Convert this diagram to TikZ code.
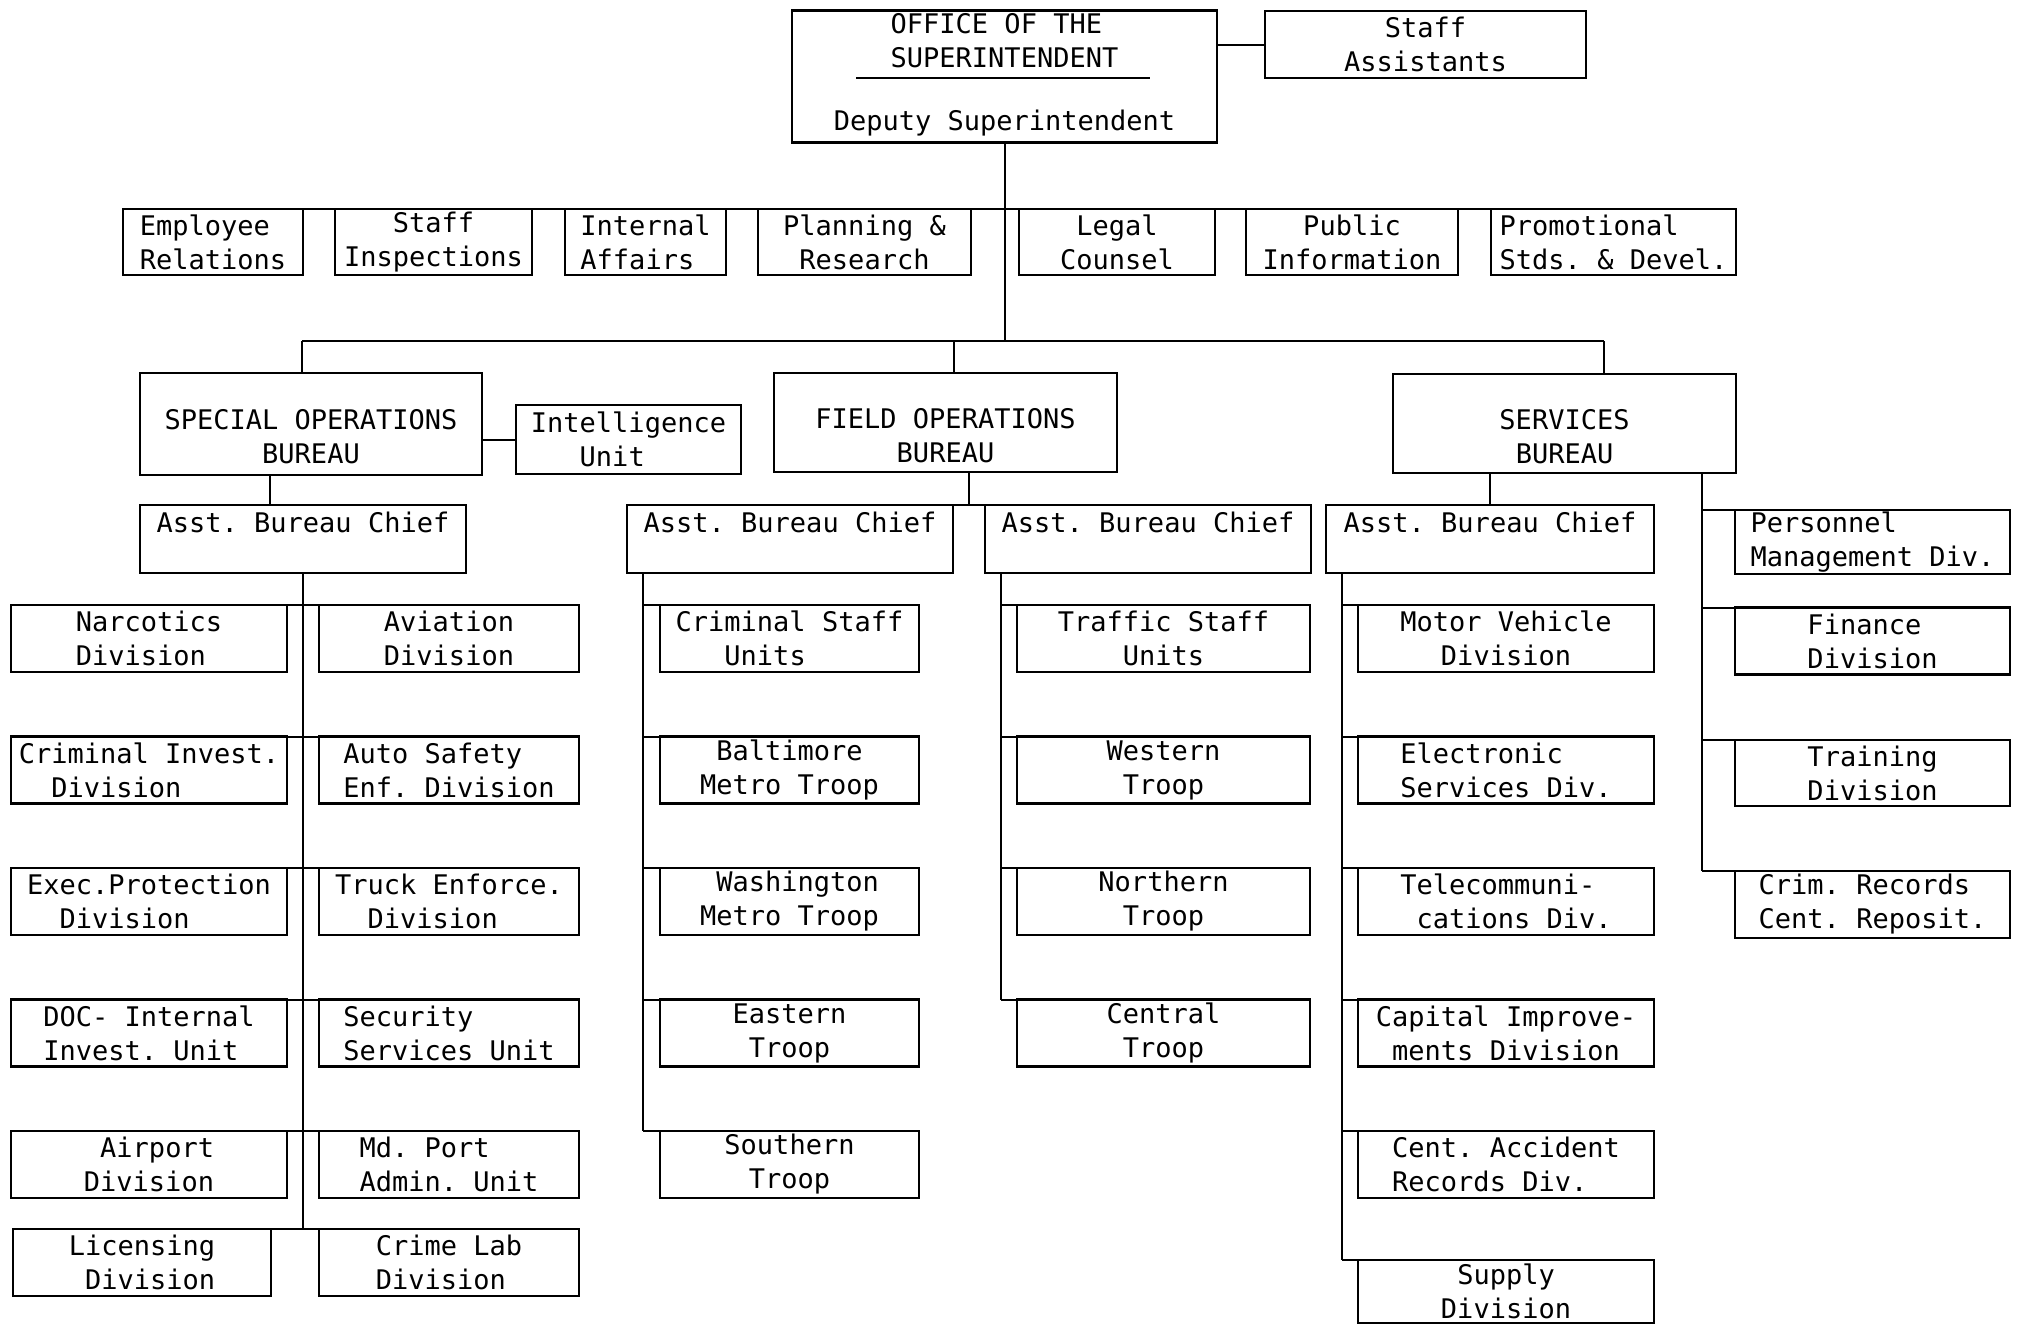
\documentclass[tikz,border=0pt]{standalone}
\usepackage{fontspec}
\setmonofont{DejaVu Sans Mono}
\usetikzlibrary{positioning}

\newcommand{\chartfont}{\ttfamily\fontsize{27pt}{34pt}\selectfont}
\newcommand{\chsp}{\hphantom{0}}
\newcommand{\lift}{\rule{0pt}{46pt}}

\tikzset{
  box/.style={draw, line width=2.4pt, inner sep=0pt, outer sep=0pt, font=\chartfont, align=left},
  unit/.style={box, minimum height=67pt},
  chief/.style={box, minimum width=326pt, minimum height=68pt},
  bureau/.style={box, align=center, minimum width=343pt, minimum height=100pt},
  txt/.style={inner sep=0pt, font=\chartfont},
  conn/.style={line width=2pt}
}

\begin{document}
\begin{tikzpicture}[x=1pt,y=-1pt,node distance=64.5pt]

\path[use as bounding box, fill=white] (0,0) rectangle (2022,1326);

% top office
\node(office)[box, minimum width=425pt, minimum height=132pt] at (1004.5,76.5) {};
\node(offtitle)[txt, align=left] at (1004.5,41) {OFFICE OF THE\\SUPERINTENDENT};
\node(deputy)[txt] at (1004.5,123) {Deputy Superintendent};
\draw[conn] ([shift={(64,67)}]office.north west) -- ++(294,0);

\node(staffa)[box, align=center, minimum width=321pt, minimum height=67pt] at (1425.5,44.5) {Staff\\Assistants};

% staff offices
\node(emprel)[box, minimum width=180pt, minimum height=66pt] at (213,242) {Employee\\Relations};
\node(staffinsp)[box, align=center, minimum width=197pt, minimum height=66pt] at (433.5,242) {Staff\\Inspections};
\node(intaff)[box, minimum width=161pt, minimum height=66pt] at (645.5,242) {Internal\\Affairs};
\node(planning)[box, align=center, minimum width=213pt, minimum height=66pt] at (864.5,242) {Planning \&\\Research};
\node(legal)[box, align=center, minimum width=196pt, minimum height=66pt] at (1117,242) {Legal\\Counsel};
\node(publicinfo)[box, align=center, minimum width=212pt, minimum height=66pt] at (1352,242) {Public\\Information};
\node(promo)[box, minimum width=245pt, minimum height=66pt] at (1613.5,242) {Promotional\\Stds. \& Devel.};

% bureaus
\node(sob)[bureau, minimum width=342pt, minimum height=102pt] at (311,424) {\lift SPECIAL OPERATIONS\\BUREAU};
\node(intel)[box, minimum width=225pt, minimum height=69pt] at (628.5,439.5) {Intelligence\\\chsp\chsp\chsp Unit};
\node(fob)[bureau, minimum height=99pt] at (945.5,422.5) {\lift FIELD OPERATIONS\\BUREAU};
\node(sb)[bureau, minimum height=99pt] at (1564.5,423.5) {\lift SERVICES\\BUREAU};

\node(soasst)[chief] at (303,539) {Asst. Bureau Chief\\\mbox{}};
\node(fasstl)[chief] at (790,539) {Asst. Bureau Chief\\\mbox{}};
\node(fasstr)[chief] at (1148,539) {Asst. Bureau Chief\\\mbox{}};
\node(sbasst)[chief, minimum width=328pt] at (1490,539) {Asst. Bureau Chief\\\mbox{}};

% special operations units
\node(narc)[unit, minimum width=276pt] at (149,638.5) {Narcotics\\Division};
\node(crinv)[unit, minimum width=276pt, below=of narc] {Criminal Invest.\\\chsp\chsp Division};
\node(execp)[unit, minimum width=276pt, below=of crinv] {Exec.Protection\\\chsp\chsp Division};
\node(docii)[unit, minimum width=276pt, below=of execp] {DOC- Internal\\Invest. Unit};
\node(airport)[unit, minimum width=276pt, below=of docii] {\chsp Airport\\Division};
\node(licen)[unit, minimum width=258pt, below=31pt of airport, xshift=-7pt] {Licensing\\\chsp Division};

\node(aviat)[unit, minimum width=260pt] at (449,638.5) {Aviation\\Division};
\node(autos)[unit, minimum width=260pt, below=of aviat] {Auto Safety\\Enf. Division};
\node(truck)[unit, minimum width=260pt, below=of autos] {Truck Enforce.\\\chsp\chsp Division};
\node(secur)[unit, minimum width=260pt, below=of truck] {Security\\Services Unit};
\node(mdport)[unit, minimum width=260pt, below=of secur] {Md. Port\\Admin. Unit};
\node(crlab)[unit, minimum width=260pt, below=31pt of mdport] {Crime Lab\\Division};

% field operations units
\node(crstaff)[unit, minimum width=259pt] at (789.5,638.5) {Criminal Staff\\\chsp\chsp\chsp Units};
\node(balt)[unit, minimum width=259pt, below=of crstaff] {\chsp Baltimore\\Metro Troop};
\node(wash)[unit, minimum width=259pt, below=of balt] {\chsp Washington\\Metro Troop};
\node(eastt)[unit, align=center, minimum width=259pt, below=of wash] {Eastern\\Troop};
\node(southt)[unit, align=center, minimum width=259pt, below=of eastt] {Southern\\Troop};

\node(trstaff)[unit, align=center, minimum width=293pt] at (1163.5,638.5) {Traffic Staff\\Units};
\node(westt)[unit, align=center, minimum width=293pt, below=of trstaff] {Western\\Troop};
\node(northt)[unit, align=center, minimum width=293pt, below=of westt] {Northern\\Troop};
\node(centralt)[unit, align=center, minimum width=293pt, below=of northt] {Central\\Troop};

% services units
\node(motor)[unit, align=center, minimum width=296pt] at (1506,638.5) {Motor Vehicle\\Division};
\node(electr)[unit, minimum width=296pt, below=of motor] {Electronic\\Services Div.};
\node(telecom)[unit, minimum width=296pt, below=of electr] {Telecommuni-\\\chsp cations Div.};
\node(capital)[unit, minimum width=296pt, below=of telecom] {Capital Improve-\\\chsp ments Division};
\node(accident)[unit, minimum width=296pt, below=of capital] {Cent. Accident\\Records Div.};
\node(supply)[unit, align=center, minimum width=296pt, minimum height=63pt, below=62pt of accident] {Supply\\Division};

\node(persmgt)[unit, minimum width=275pt, minimum height=64pt] at (1872.5,542) {Personnel\\Management Div.};
\node(finance)[unit, minimum width=275pt] at (1872.5,641) {Finance\\Division};
\node(training)[unit, minimum width=275pt, minimum height=66pt] at (1872.5,773) {Training\\Division};
\node(crimrec)[unit, minimum width=275pt] at (1872.5,904.5) {Crim. Records\\Cent. Reposit.};

% connectors at the top
\draw[conn] (office.east |- staffa.west) -- (staffa.west);
\coordinate(bus) at (1004.5,341);
\draw[conn] (office.south) -- (bus);
\draw[conn] (emprel.north west) -- (promo.north east);

\coordinate(busl) at (302,341);
\coordinate(busm) at (954,341);
\coordinate(busr) at (1604,341);
\draw[conn] (busl) -- (busr);
\draw[conn] (busl) -- (busl |- sob.north);
\draw[conn] (busm) -- (busm |- fob.north);
\draw[conn] (busr) -- (busr |- sb.north);
\draw[conn] (sob.east |- intel.west) -- (intel.west);

% special operations
\draw[conn] ([xshift=-41pt]sob.south) -- ([xshift=-41pt]sob.south |- soasst.north);
\draw[conn] (soasst.south) -- (soasst.south |- licen.north);
\draw[conn] (narc.north east) -- (aviat.north west);
\draw[conn] (crinv.north east) -- (autos.north west);
\draw[conn] (execp.north east) -- (truck.north west);
\draw[conn] (docii.north east) -- (secur.north west);
\draw[conn] (airport.north east) -- (mdport.north west);
\draw[conn] (licen.north east) -- (crlab.north west);

% field operations
\draw[conn] (fasstl.north east) -- (fasstr.north west);
\draw[conn] ([xshift=23.5pt]fob.south) -- ([xshift=23.5pt]fob.south |- fasstl.north);
\coordinate(ftrunkl) at ([xshift=16pt]fasstl.south west);
\draw[conn] (ftrunkl) -- (ftrunkl |- southt.north);
\draw[conn] (crstaff.north west) -- (crstaff.north west -| ftrunkl);
\draw[conn] (balt.north west) -- (balt.north west -| ftrunkl);
\draw[conn] (wash.north west) -- (wash.north west -| ftrunkl);
\draw[conn] (eastt.north west) -- (eastt.north west -| ftrunkl);
\draw[conn] (southt.north west) -- (southt.north west -| ftrunkl);
\coordinate(ftrunkr) at ([xshift=16pt]fasstr.south west);
\draw[conn] (ftrunkr) -- (ftrunkr |- centralt.north);
\draw[conn] (trstaff.north west) -- (trstaff.north west -| ftrunkr);
\draw[conn] (westt.north west) -- (westt.north west -| ftrunkr);
\draw[conn] (northt.north west) -- (northt.north west -| ftrunkr);
\draw[conn] (centralt.north west) -- (centralt.north west -| ftrunkr);

% services
\draw[conn] (sbasst.north |- sb.south) -- (sbasst.north);
\coordinate(strunk) at ([xshift=16pt]sbasst.south west);
\draw[conn] (strunk) -- (strunk |- supply.north);
\draw[conn] (motor.north west) -- (motor.north west -| strunk);
\draw[conn] (electr.north west) -- (electr.north west -| strunk);
\draw[conn] (telecom.north west) -- (telecom.north west -| strunk);
\draw[conn] (capital.north west) -- (capital.north west -| strunk);
\draw[conn] (accident.north west) -- (accident.north west -| strunk);
\draw[conn] (supply.north west) -- (supply.north west -| strunk);
\coordinate(strunkr) at ([xshift=-34pt]sb.south east);
\draw[conn] (strunkr) -- (strunkr |- crimrec.north);
\draw[conn] (persmgt.north west) -- (persmgt.north west -| strunkr);
\draw[conn] (finance.north west) -- (finance.north west -| strunkr);
\draw[conn] (training.north west) -- (training.north west -| strunkr);
\draw[conn] (crimrec.north west) -- (crimrec.north west -| strunkr);

\end{tikzpicture}
\end{document}
